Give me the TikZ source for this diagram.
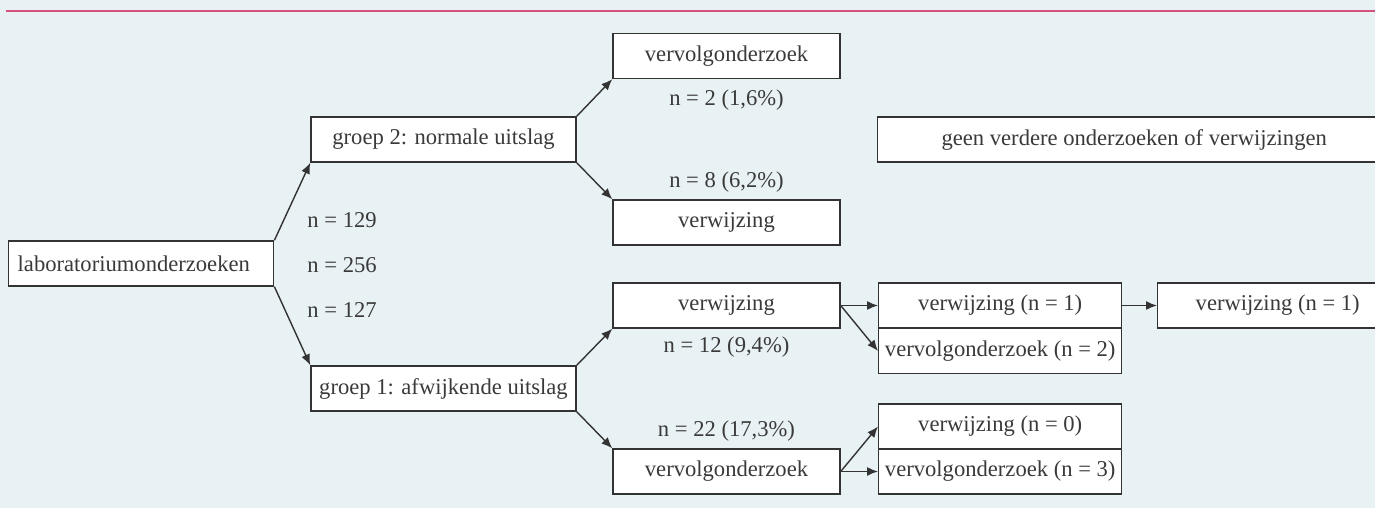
\documentclass[tikz,border=0pt]{standalone}
\usepackage{fontspec}
\setmainfont{Liberation Serif}
\usetikzlibrary{arrows.meta}

\definecolor{achtergrond}{HTML}{E8F1F4}
\definecolor{lijnroze}{HTML}{D6517B}
\definecolor{kadergrijs}{HTML}{333333}
\definecolor{tekstgrijs}{HTML}{3A3A3A}

\tikzset{
  kader/.style={draw=kadergrijs, fill=white, line width=0.7pt, text=tekstgrijs,
    minimum height=22.5pt, inner sep=0pt, font=\fontsize{11.3}{13}\selectfont},
  getal/.style={text=tekstgrijs, inner sep=0pt, font=\fontsize{11.3}{13}\selectfont},
  pijl/.style={draw=kadergrijs, line width=0.7pt, -{Latex[length=5.5pt,width=4.5pt]}}
}

\begin{document}
\begin{tikzpicture}[x = 0.5pt, y = -0.5pt]

    % Achtergrond
    \fill[achtergrond] (0,0) rectangle (1375,508);
    \useasboundingbox (0,0) rectangle (1375,508);
    \draw[lijnroze, line width=0.8pt] (6,11) -- (1380,11);

    % Startpunt
    \node[kader, anchor=west, text width=123.5pt, align=left, inner xsep=4.5pt] (lab) at (8,263.5) {laboratoriumonderzoeken};

    % Groepen
    \node[kader, minimum width=132.5pt] (grpnorm) at (443.5,139.5) {groep 2: normale uitslag};
    \node[kader, minimum width=132.5pt] (grpafw) at (443.5,388.5) {groep 1: afwijkende uitslag};

    % Aantallen per groep
    \node[getal, anchor=west] (n129) at (307,220) {n = 129};
    \node[getal, anchor=west] (n256) at (307,265) {n = 256};
    \node[getal, anchor=west] (n127) at (307,310) {n = 127};

    % Groep 2: normale uitslag
    \node[kader, minimum width=113.5pt] (normvervolg) at (726.5,56) {vervolgonderzoek};
    \node[kader, minimum width=113.5pt] (normverw) at (726.5,222.5) {verwijzing};
    \node[getal] (n2) at (726.5,100) {n = 2 (1,6\%)};
    \node[getal] (n8) at (726.5,182) {n = 8 (6,2\%)};
    \node[kader, anchor=west, minimum width=256.5pt] (geen) at (877,139.5) {geen verdere onderzoeken of verwijzingen};

    % Groep 1: afwijkende uitslag
    \node[kader, minimum width=113.5pt] (afwverw) at (726.5,305.5) {verwijzing};
    \node[kader, minimum width=113.5pt] (afwvervolg) at (726.5,471.5) {vervolgonderzoek};
    \node[getal] (n12) at (726.5,347) {n = 12 (9,4\%)};
    \node[getal] (n22) at (726.5,431) {n = 22 (17,3\%)};

    % Na verwijzing
    \node[kader, anchor=west, minimum width=121.5pt] (verwverw) at (878,305.5) {verwijzing (n = 1)};
    \node[kader, anchor=west, minimum width=121.5pt] (verwvervolg) at (878,351) {vervolgonderzoek (n = 2)};
    \node[kader, anchor=west, minimum width=120pt] (verwverwB) at (1157,305.5) {verwijzing (n = 1)};

    % Na vervolgonderzoek
    \node[kader, anchor=west, minimum width=121.5pt] (vervolgverw) at (878,426.5) {verwijzing (n = 0)};
    \node[kader, anchor=west, minimum width=121.5pt] (vervolgvervolg) at (878,471.5) {vervolgonderzoek (n = 3)};

    % Pijlen
    \draw[pijl] (lab.north east) -- (grpnorm.south west);
    \draw[pijl] (lab.south east) -- (grpafw.north west);
    \draw[pijl] (grpnorm.north east) -- (normvervolg.south west);
    \draw[pijl] (grpnorm.south east) -- (normverw.north west);
    \draw[pijl] (grpafw.north east) -- (afwverw.south west);
    \draw[pijl] (grpafw.south east) -- (afwvervolg.north west);
    \draw[pijl] (afwverw.east) -- (verwverw.west);
    \draw[pijl] (afwverw.east) -- (verwvervolg.west);
    \draw[pijl] (verwverw.east) -- (verwverwB.west);
    \draw[pijl] (afwvervolg.east) -- (vervolgverw.west);
    \draw[pijl] (afwvervolg.east) -- (vervolgvervolg.west);

\end{tikzpicture}
\end{document}
